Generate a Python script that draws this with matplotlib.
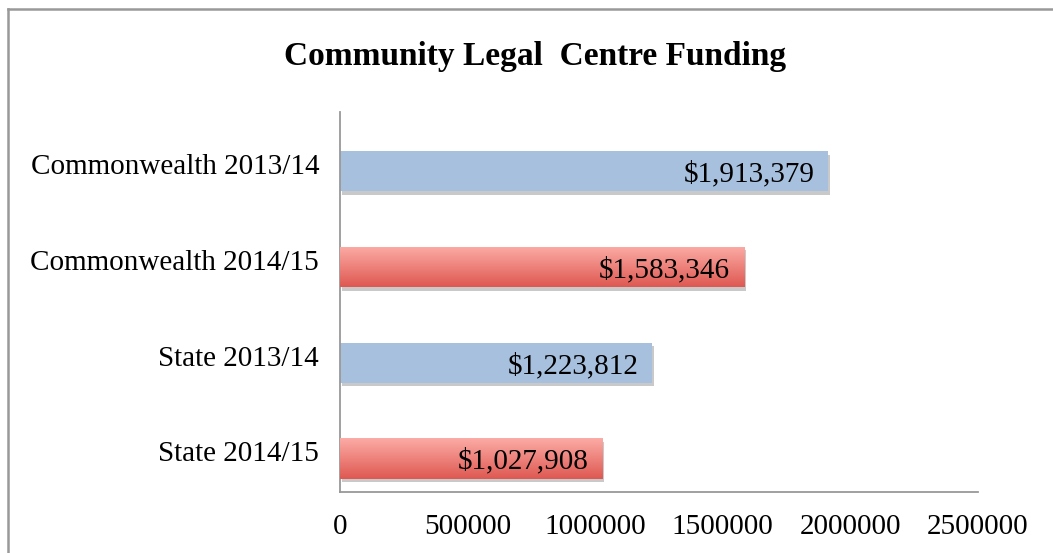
import matplotlib.pyplot as plt
import matplotlib.patheffects as pe
import matplotlib.transforms as mtransforms
from matplotlib.lines import Line2D
import numpy as np

categories = ['Commonwealth 2013/14', 'Commonwealth 2014/15', 'State 2013/14', 'State 2014/15']
values = [1913379, 1583346, 1223812, 1027908]
labels = ['$1,913,379', '$1,583,346', '$1,223,812', '$1,027,908']
xticks = [0, 500000, 1000000, 1500000, 2000000, 2500000]

plt.rcParams['font.family'] = ['Liberation Serif', 'DejaVu Serif']

fig = plt.figure(figsize=(10.53, 5.53), dpi=100)
ax = fig.add_axes([340/1053, 1-492/553, (978-340)/1053, (492-112)/553])

y = np.arange(len(categories))
h = 0.42
shadow = [pe.SimplePatchShadow(offset=(1.5, -2.5), shadow_rgbFace='#888888', alpha=0.45), pe.Normal()]
bars = ax.barh(y, values, height=h, color='#a7c0de', edgecolor='none', path_effects=shadow, zorder=2)

# red gradient on the 2014/15 bars
grad = np.linspace(0, 1, 100).reshape(-1, 1)
top = np.array([0.99, 0.67, 0.65])
bot = np.array([0.87, 0.35, 0.32])
img = top + (bot - top) * grad[..., None]
img = img.reshape(100, 1, 3)
for i, b in enumerate(bars):
    if i % 2 == 1:
        b.set_facecolor('#e57e77')
        im = ax.imshow(img, extent=[0, values[i], y[i] + h/2, y[i] - h/2],
                       aspect='auto', zorder=3, interpolation='bilinear')
        im.set_clip_path(b)

for i, v in enumerate(values):
    ax.text(v - 500000*0.11, y[i] + 0.03, labels[i], ha='right', va='center',
            fontsize=21, zorder=4)

ax.set_xlim(0, 2500000)
ax.set_ylim(3.35, -0.62)
ax.set_xticks(xticks)
ax.set_xticklabels([str(t) for t in xticks], fontsize=21)
ax.set_yticks(y)
ax.set_yticklabels(categories, fontsize=21)
ax.tick_params(length=0)
ax.tick_params(axis='x', pad=16)
ax.tick_params(axis='y', pad=15)
# category labels sit a little above the bar centres
shift = mtransforms.ScaledTranslation(0, 7/100, fig.dpi_scale_trans)
for lab in ax.get_yticklabels():
    lab.set_transform(lab.get_transform() + shift)
for s in ['top', 'right']:
    ax.spines[s].set_visible(False)
for s in ['left', 'bottom']:
    ax.spines[s].set_color('#999999')
    ax.spines[s].set_linewidth(1.3)

fig.text(535/1053, 1-57/553, 'Community Legal  Centre Funding', ha='center', va='center',
         fontsize=24, fontweight='bold')

# outer chart border
fig.add_artist(Line2D([7.5/1053, 7.5/1053], [0, 1-8.5/553], color='#999999', lw=1.8))
fig.add_artist(Line2D([7.5/1053, 1], [1-8.5/553, 1-8.5/553], color='#999999', lw=1.8))

fig.savefig('out.png', dpi=100)
